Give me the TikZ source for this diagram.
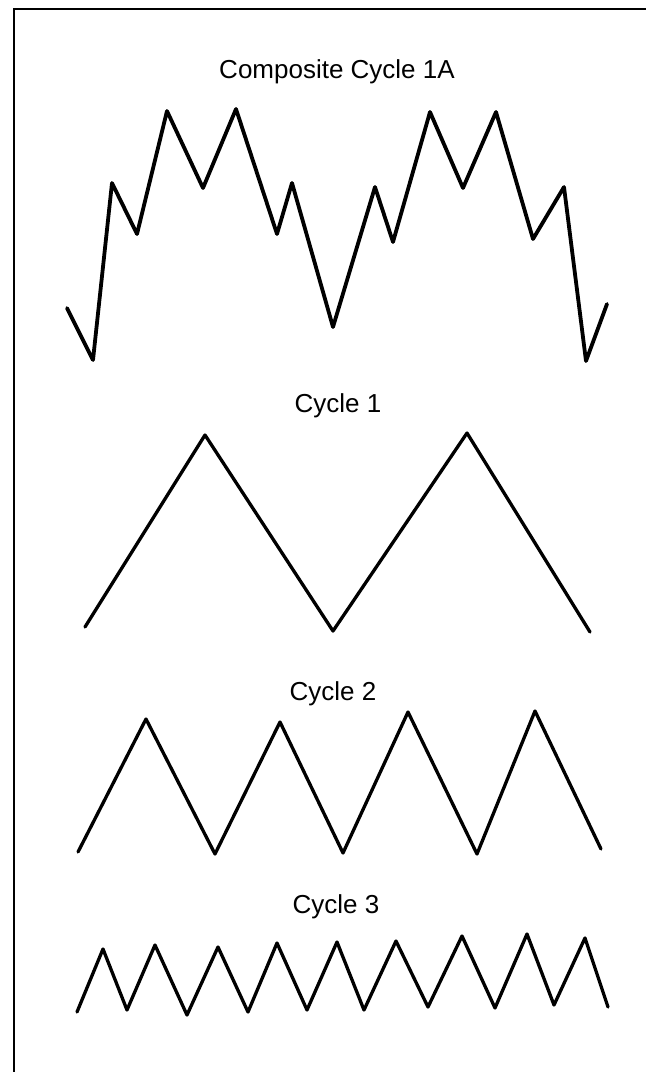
\documentclass[tikz,border=0pt]{standalone}
\usepackage{fontspec}
\setmainfont{Liberation Sans}

\begin{document}
\begin{tikzpicture}[
    x=1pt, y=-1pt,
    font=\fontsize{26}{31}\selectfont,
    frame/.style={line width=2.8pt},
    wave/.style={line width=3.3pt, line join=round, line cap=round},
    cyctitle/.style={anchor=base, inner sep=0pt}
]
\useasboundingbox (0,0) rectangle (646,1072);
% open frame: left side and top only
\draw[frame] (14,1072) -- (14,9) -- (646,9);

\node[cyctitle] (tcomp) at (337,78) {Composite Cycle 1A};
\node[cyctitle] (tone) at (338,412) {Cycle 1};
\node[cyctitle] (ttwo) at (333,700) {Cycle 2};
\node[cyctitle] (tthree) at (336,913) {Cycle 3};

% composite wave
\draw[wave, line width=3.8pt] (67,308) -- (93,360) -- (112,183) -- (137,234) -- (167,111) -- (203,188) -- (236,109) -- (277,234) -- (292,183) -- (333,327) -- (375,187) -- (393,242) -- (430,112) -- (463,188) -- (496,112) -- (533,239) -- (564,187) -- (586,361) -- (607,304);
% cycle 1
\draw[wave] (85,627) -- (205,435) -- (333,631) -- (467,433) -- (590,632);
% cycle 2
\draw[wave] (78,852) -- (146,719) -- (215,854) -- (280,722) -- (343,853) -- (408,712) -- (477,854) -- (535,711) -- (601,849);
% cycle 3
\draw[wave] (77,1012) -- (103,949) -- (127,1010) -- (155,945) -- (187,1015) -- (218,947) -- (248,1012) -- (277,943) -- (307,1010) -- (337,942) -- (364,1010) -- (396,941) -- (428,1007) -- (462,936) -- (495,1008) -- (527,934) -- (554,1005) -- (585,938) -- (608,1007);
\end{tikzpicture}
\end{document}
